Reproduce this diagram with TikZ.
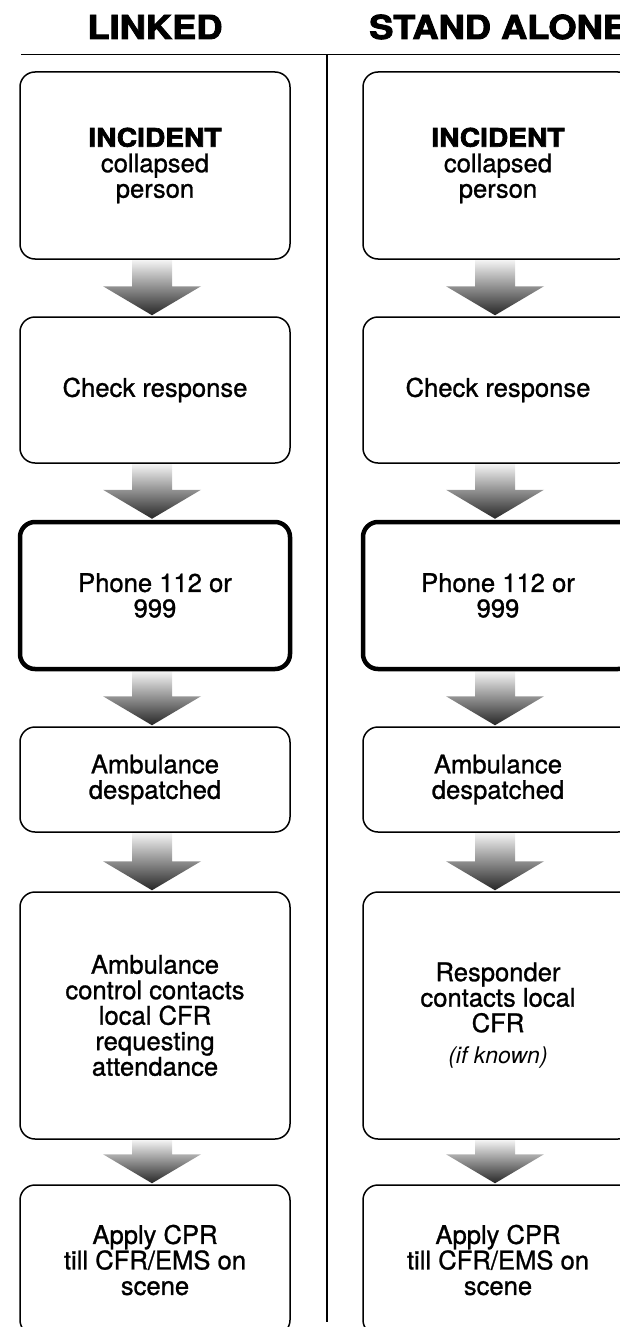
\documentclass[tikz,border=0pt]{standalone}
\usepackage{fontspec}
\setmainfont{TeX Gyre Heros}
\newfontfamily\medfont{texgyreheros-regular.otf}[FakeBold=1.0]
\newfontfamily\heavyfont{texgyreheros-bold.otf}[FakeBold=2.5]
\newfontfamily\itfont{texgyreheros-italic.otf}
\usetikzlibrary{calc,backgrounds}
\newcommand\bodytext{\medfont\fontsize{25.6}{25.5}\selectfont}
\newcommand\headtext{\heavyfont\fontsize{33}{36}\selectfont}
\newcommand\inctext[1]{{\heavyfont\scalebox{1.1}[1]{#1}}}
\newcommand\blockarrow[2]{%
  \path[arrowfill] let \p1=(#1.south), \p2=(#2.north) in
    (\x1-23pt,\y1) -- (\x1+17pt,\y1) -- (\x1+17pt,\y2+30pt) --
    (\x1+46pt,\y2+30pt) -- (\x1-3pt,\y2+1pt) -- (\x1-52pt,\y2+30pt) --
    (\x1-23pt,\y2+30pt) -- cycle;}
\begin{document}
\begin{tikzpicture}[x=1pt,y=-1pt,
  flowbox/.style={draw=black, line width=1.5pt, rounded corners=15pt, fill=white,
    minimum width=270pt, align=center, font=\bodytext, inner sep=0pt},
  keybox/.style={flowbox, line width=4.5pt},
  arrowfill/.style={top color=gray!8, bottom color=black!85, draw=none},
  header/.style={font=\headtext, inner sep=0pt},
  rule/.style={draw=black, line width=1.5pt}]
\useasboundingbox (0,0) rectangle (620,1327);
\clip (0,0) rectangle (620,1327);

% headers and separators
\node[header, anchor=base] (hL) at (155,39) {\scalebox{1.1}[1]{LINKED}};
\node[header, anchor=base west] (hR) at (369,39) {\scalebox{1.1}[1]{STAND ALONE}};
\coordinate (ruleL) at (21,54.5);
\coordinate (ruleR) at (620,54.5);
\coordinate (divT) at (327,54.5);
\coordinate (divB) at (327,1322);
\draw[rule] (ruleL) -- (ruleR);
\draw[rule] (divT) -- (divB);

% left column
\node[flowbox, minimum height=187pt] (L1) at (155,165.5)
  {\inctext{INCIDENT}\\collapsed\\person};
\node[flowbox, minimum height=146pt] (L2) at (155,390) {Check response};
\node[keybox, minimum height=147pt] (L3) at (155,595.5) {Phone 112 or\\999};
\node[flowbox, minimum height=105pt] (L4) at (155,779.5) {Ambulance\\despatched};
\node[flowbox, minimum height=247pt] (L5) at (155,1015.5)
  {Ambulance\\control contacts\\local CFR\\requesting\\attendance};
\node[flowbox, minimum height=150pt] (L6) at (155,1260)
  {Apply CPR\\till CFR/EMS on\\scene};

% right column
\node[flowbox, minimum height=187pt] (R1) at (498,165.5)
  {\inctext{INCIDENT}\\collapsed\\person};
\node[flowbox, minimum height=146pt] (R2) at (498,390) {Check response};
\node[keybox, minimum height=147pt] (R3) at (498,595.5) {Phone 112 or\\999};
\node[flowbox, minimum height=105pt] (R4) at (498,779.5) {Ambulance\\despatched};
\node[flowbox, minimum height=247pt] (R5) at (498,1015.5)
  {Responder\\contacts local\\CFR\\[6pt]{\itfont\fontsize{23}{25}\selectfont (if known)}};
\node[flowbox, minimum height=150pt] (R6) at (498,1260)
  {Apply CPR\\till CFR/EMS on\\scene};

% arrows
\begin{pgfonlayer}{background}
\blockarrow{L1}{L2}
\blockarrow{L2}{L3}
\blockarrow{L3}{L4}
\blockarrow{L4}{L5}
\blockarrow{L5}{L6}
\blockarrow{R1}{R2}
\blockarrow{R2}{R3}
\blockarrow{R3}{R4}
\blockarrow{R4}{R5}
\blockarrow{R5}{R6}
\end{pgfonlayer}
\end{tikzpicture}
\end{document}
